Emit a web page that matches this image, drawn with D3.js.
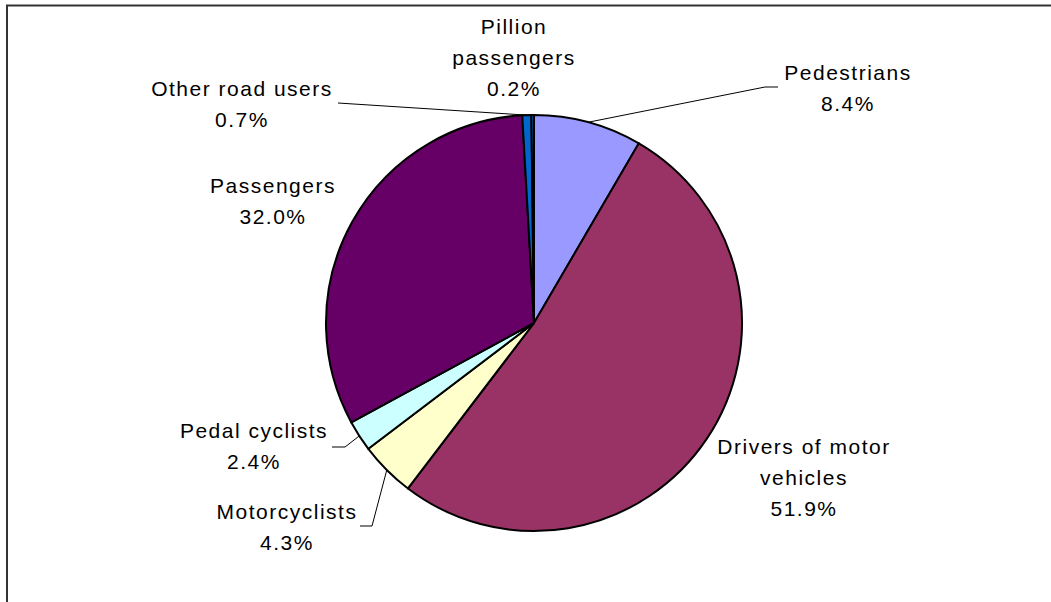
<!DOCTYPE html>
<html>
<head>
<meta charset="utf-8">
<script src="https://cdn.jsdelivr.net/npm/d3@7/dist/d3.min.js"></script>
<style>
  html, body { margin: 0; padding: 0; background: #fff; }
  svg { display: block; }
  text { font-family: "Liberation Sans", Arial, sans-serif; font-size: 21px; letter-spacing: 1.5px; fill: #000; }
</style>
</head>
<body>
<script>
// ---- data ----
const categories = ["Pedestrians", "Drivers of motor vehicles", "Motorcyclists", "Pedal cyclists", "Passengers", "Other road users", "Pillion passengers"];
const values = [8.4, 51.9, 4.3, 2.4, 32.0, 0.7, 0.2];
const colors = ["#9999FF", "#993366", "#FFFFCC", "#CCFFFF", "#660066", "#0066CC", "#0066CC"];
const labelLines = [
  ["Pedestrians"],
  ["Drivers of motor", "vehicles"],
  ["Motorcyclists"],
  ["Pedal cyclists"],
  ["Passengers"],
  ["Other road users"],
  ["Pillion", "passengers"]
];

// ---- layout (not data) ----
const W = 1051, H = 602;
const cx = 534, cy = 323, R = 208;
const lineGap = 31;
// label centre x, first baseline y, leader points (label side, ordered from label to pie), or null
const labelLayout = [
  { x: 848, y: 80,  leader: [[778, 87], [765, 87]] },
  { x: 804, y: 454, leader: null },
  { x: 287, y: 519, leader: [[360, 526], [372, 526]] },
  { x: 254, y: 438, leader: [[332, 447], [345, 447]] },
  { x: 273, y: 193, leader: null },
  { x: 242, y: 96,  leader: [[338, 103]] },
  { x: 514, y: 34,  leader: null }
];

const svg = d3.select("body").append("svg").attr("width", W).attr("height", H);

// frame (extends beyond the window on right and bottom)
svg.append("rect")
  .attr("x", 7).attr("y", 5.5).attr("width", 1200).attr("height", 800)
  .attr("fill", "none").attr("stroke", "#333").attr("stroke-width", 2);

const data = categories.map((c, i) => ({ name: c, value: values[i], color: colors[i], lines: labelLines[i], layout: labelLayout[i] }));

const pie = d3.pie().value(d => d.value).sort(null).startAngle(0).endAngle(2 * Math.PI);
const arcs = pie(data);
const arc = d3.arc().innerRadius(0).outerRadius(R);

const g = svg.append("g").attr("transform", `translate(${cx},${cy})`);
g.selectAll("path.slice").data(arcs).join("path")
  .attr("class", "slice")
  .attr("d", arc)
  .attr("fill", d => d.data.color)
  .attr("stroke", "#000")
  .attr("stroke-width", 2)
  .attr("stroke-linejoin", "round");

const fmt = d3.format(".1f");

// leader lines
arcs.forEach(a => {
  const L = a.data.layout;
  if (!L.leader) return;
  const mid = (a.startAngle + a.endAngle) / 2;
  const px = cx + R * Math.sin(mid), py = cy - R * Math.cos(mid);
  const pts = L.leader.concat([[px, py]]);
  svg.append("path")
    .attr("d", d3.line()(pts))
    .attr("fill", "none")
    .attr("stroke", "#000")
    .attr("stroke-width", 1);
});

// labels
arcs.forEach(a => {
  const L = a.data.layout;
  const lines = a.data.lines.concat([fmt(a.data.value) + "%"]);
  const t = svg.append("text").attr("text-anchor", "middle");
  lines.forEach((s, i) => {
    t.append("tspan").attr("x", L.x).attr("y", L.y + i * lineGap).text(s);
  });
});
</script>
</body>
</html>
